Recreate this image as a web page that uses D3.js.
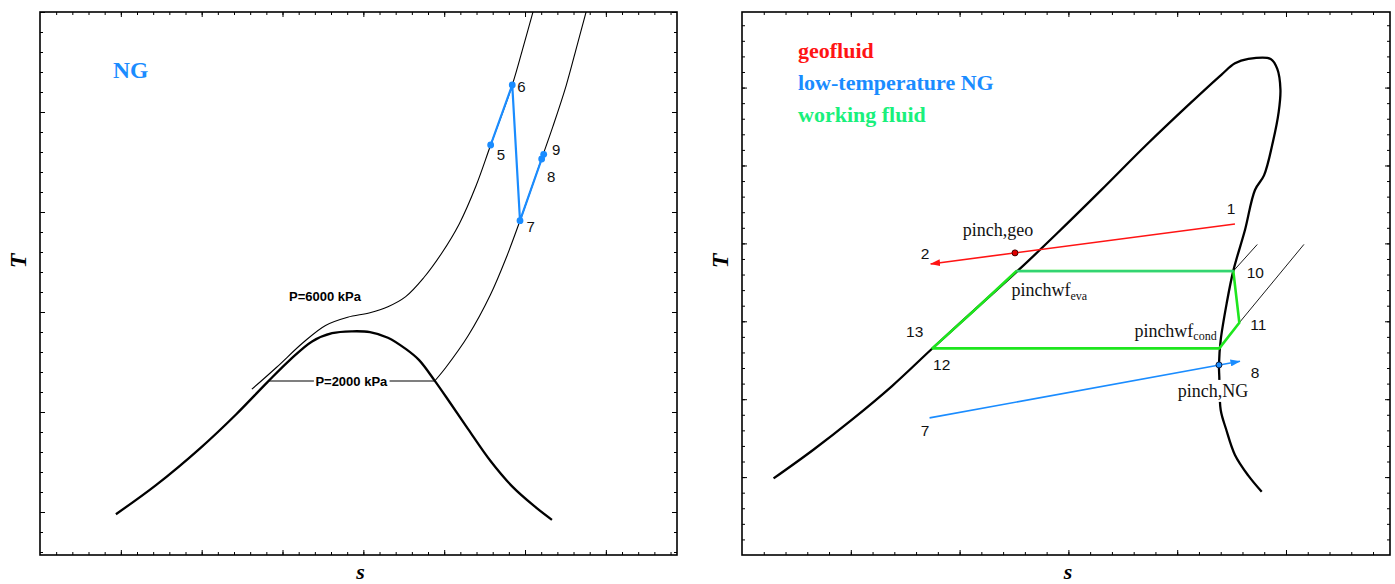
<!DOCTYPE html>
<html>
<head>
<meta charset="utf-8">
<script src="https://cdn.jsdelivr.net/npm/d3@7"></script>
<style>
  html, body { margin: 0; padding: 0; background: #fff; }
  svg { display: block; }
</style>
</head>
<body>
<svg id="chart" width="1395" height="584"></svg>
<script>
// ---------------- Left panel: natural gas T-s diagram ----------------
// saturation dome
const ngDomeS = [0.939, 1.435, 1.987, 2.428, 2.814, 3.090, 3.366, 3.613, 3.862, 4.082, 4.304, 4.524, 4.690, 4.882, 5.075, 5.296, 5.571, 5.847, 6.123, 6.333];
const ngDomeT = [97.8, 126.9, 164.2, 197.8, 229.9, 251.9, 270.6, 278.8, 280.7, 279.9, 274.3, 263.1, 251.9, 231.4, 209.0, 182.9, 151.2, 125.1, 105.3, 92.2];
// 2000 kPa isobar (two-phase plateau, then superheated branch)
const p2000S = [2.82, 4.883, 5.020, 5.296, 5.572, 5.771, 5.938, 6.206, 6.343, 6.508, 6.646, 6.758];
const p2000T = [231, 231, 244.5, 276.2, 317.2, 355.0, 391.3, 453.4, 485.1, 526.2, 567.2, 600.8];
// 6000 kPa isobar (supercritical)
const p6000S = [2.621, 2.924, 3.256, 3.532, 3.806, 4.082, 4.304, 4.524, 4.744, 4.965, 5.186, 5.393, 5.575, 5.842, 5.985, 6.101];
const p6000T = [222.8, 244.5, 269.5, 286.6, 294.8, 299.3, 305.3, 315.4, 334.0, 358.3, 388.1, 426.0, 467.0, 527.0, 567.2, 600.8];
// NG process states
const ngStates = ["5", "6", "7", "8", "9"];
const ngStateS = [5.575, 5.842, 5.938, 6.206, 6.231];
const ngStateT = [467.0, 527.0, 391.3, 453.0, 457.7];
const isobarLabels = ["P=6000 kPa", "P=2000 kPa"];

// ---------------- Right panel: working fluid cycle ----------------
const wfDomeS = [0.290, 0.653, 1.011, 1.379, 1.744, 2.133, 2.523, 2.892, 3.301, 3.711, 4.121, 4.408, 4.531, 4.654, 4.859, 4.920, 4.949, 4.933, 4.880, 4.798, 4.715, 4.623, 4.516, 4.455, 4.400, 4.384, 4.387, 4.400, 4.449, 4.531, 4.654, 4.777];
const wfDomeT = [0.983, 1.348, 1.738, 2.169, 2.644, 3.139, 3.633, 4.123, 4.683, 5.256, 5.800, 6.167, 6.311, 6.367, 6.367, 6.239, 5.974, 5.687, 5.304, 4.873, 4.686, 4.172, 3.650, 3.231, 2.760, 2.443, 2.289, 1.861, 1.617, 1.284, 1.018, 0.811];
// working-fluid cycle: 12 -> (saturated liquid) -> pinchwf_eva -> 10 -> 11 -> pinchwf_cond -> 12
const cycleS = [1.744, 2.133, 2.523, 4.516, 4.571, 4.387, 1.744];
const cycleT = [2.646, 3.139, 3.645, 3.645, 2.982, 2.652, 2.652];
// superheated isobars leaving states 10 and 11
const isoHighS = [4.516, 4.736];
const isoHighT = [3.645, 3.986];
const isoLowS = [4.571, 5.165];
const isoLowT = [2.982, 3.987];
// geofluid stream 1 -> 2 and its pinch
const geoS = [4.531, 1.734];
const geoT = [4.249, 3.736];
const geoPinch = [2.509, 3.878];
// low-temperature NG stream 7 -> 8 and its pinch
const lngS = [1.724, 4.577];
const lngT = [1.760, 2.487];
const ngPinch = [4.384, 2.440];
const legendItems = ["geofluid", "low-temperature NG", "working fluid"];

// ---------------- drawing ----------------
const RED = "#ff1414", BLUE = "#1a8cff", GREEN = "#1ee61e", LEGEND_GREEN = "#19f07c";
const EVAP_GREEN = "#34dc7c";
const SERIF = "'Liberation Serif','Times New Roman',serif";
const SANS = "'Liberation Sans',Arial,sans-serif";

const svg = d3.select("#chart");
const defs = svg.append("defs");

const boxL = { x0: 40, x1: 677, y0: 12, y1: 555 };
const boxR = { x0: 742, x1: 1390, y0: 12, y1: 555 };

const xL = d3.scaleLinear().domain([0, 7.88]).range([boxL.x0, boxL.x1]);
const yL = d3.scaleLinear().domain([57, 600]).range([boxL.y1, boxL.y0]);
const xR = d3.scaleLinear().domain([0, 5.956]).range([boxR.x0, boxR.x1]);
const yR = d3.scaleLinear().domain([0, 6.97]).range([boxR.y1, boxR.y0]);

function clipFor(id, b) {
  defs.append("clipPath").attr("id", id)
    .append("rect").attr("x", b.x0).attr("y", b.y0)
    .attr("width", b.x1 - b.x0).attr("height", b.y1 - b.y0);
}
clipFor("clipL", boxL);
clipFor("clipR", boxR);

function frame(x, y, b, xMaj, xMin, yMaj, yMin) {
  const g = svg.append("g");
  const put = (axisFn, scale, vals, size, tr) => {
    g.append("g").attr("transform", tr)
      .call(axisFn(scale).tickValues(vals).tickSize(-size).tickFormat(""))
      .call(a => a.select(".domain").remove())
      .call(a => a.selectAll("line").attr("stroke", "#000").attr("stroke-width", 1));
  };
  [[xMin, 3], [xMaj, 5]].forEach(([v, s]) => {
    put(d3.axisBottom, x, v, s, `translate(0,${b.y1})`);
    put(d3.axisTop, x, v, s, `translate(0,${b.y0})`);
  });
  [[yMin, 3], [yMaj, 5]].forEach(([v, s]) => {
    put(d3.axisLeft, y, v, s, `translate(${b.x0},0)`);
    put(d3.axisRight, y, v, s, `translate(${b.x1},0)`);
  });
  g.append("rect").attr("x", b.x0).attr("y", b.y0)
    .attr("width", b.x1 - b.x0).attr("height", b.y1 - b.y0)
    .attr("fill", "none").attr("stroke", "#000").attr("stroke-width", 1.6);
}

function axisTitles(b) {
  svg.append("text")
    .attr("transform", `translate(${b.x0 - 22},${261}) rotate(-90)`)
    .attr("text-anchor", "middle").attr("dominant-baseline", "central")
    .attr("font-family", SERIF).attr("font-weight", "bold").attr("font-style", "italic")
    .attr("font-size", 24).text("T");
  svg.append("text")
    .attr("x", (b.x0 + b.x1) / 2 + 2).attr("y", 578.5)
    .attr("text-anchor", "middle")
    .attr("font-family", SERIF).attr("font-weight", "bold").attr("font-style", "italic")
    .attr("font-size", 22).text("s");
}

function curve(g, S, T, x, y, opts) {
  const line = d3.line()
    .x(i => x(S[i])).y(i => y(T[i]))
    .curve(opts.linear ? d3.curveLinear : d3.curveCatmullRom.alpha(0.5));
  return g.append("path").attr("d", line(d3.range(S.length)))
    .attr("fill", "none").attr("stroke", opts.color || "#000")
    .attr("stroke-width", opts.width || 1)
    .attr("stroke-linejoin", "round").attr("stroke-linecap", opts.cap || "butt");
}

function boxedText(g, t, pad) {
  const bb = t.node().getBBox();
  g.insert("rect", () => t.node())
    .attr("x", bb.x - pad[0]).attr("y", bb.y - pad[1])
    .attr("width", bb.width + 2 * pad[0]).attr("height", bb.height + 2 * pad[1])
    .attr("fill", "#fff");
}

// ===== Left panel =====
frame(xL, yL, boxL, d3.range(1, 8), d3.range(0.2, 7.88, 0.2), d3.range(100, 601, 100), d3.range(60, 600, 20));
axisTitles(boxL);

const gL = svg.append("g").attr("clip-path", "url(#clipL)");
curve(gL, ngDomeS, ngDomeT, xL, yL, { width: 2.3 });
curve(gL, p6000S, p6000T, xL, yL, { width: 1.1 });
curve(gL, p2000S.slice(0, 2), p2000T.slice(0, 2), xL, yL, { width: 1.1, linear: true });
curve(gL, p2000S.slice(1), p2000T.slice(1), xL, yL, { width: 1.1 });

// isobar labels
gL.append("text")
  .attr("x", xL(3.532) - 0.5).attr("y", yL(p6000T[3]) - 24.5)
  .attr("text-anchor", "middle")
  .attr("font-family", SANS).attr("font-weight", "bold").attr("font-size", 13)
  .text(isobarLabels[0]);
const lbl2000 = gL.append("text")
  .attr("x", xL((p2000S[0] + p2000S[1]) / 2)).attr("y", yL(p2000T[0]) + 4.7)
  .attr("text-anchor", "middle")
  .attr("font-family", SANS).attr("font-weight", "bold").attr("font-size", 13)
  .text(isobarLabels[1]);
boxedText(gL, lbl2000, [1.5, -1]);

// NG process 5-6-7-8-9
curve(gL, ngStateS, ngStateT, xL, yL, { width: 2.2, color: BLUE, linear: true });
gL.selectAll("circle.ng").data(d3.range(ngStates.length)).join("circle")
  .attr("cx", i => xL(ngStateS[i])).attr("cy", i => yL(ngStateT[i]))
  .attr("r", 3.4).attr("fill", BLUE);
const ngLabelOffset = [[6, 14.5], [5, 7], [6.5, 11.5], [5.3, 23], [8.3, 0.5]];
gL.selectAll("text.ng").data(d3.range(ngStates.length)).join("text")
  .attr("x", i => xL(ngStateS[i]) + ngLabelOffset[i][0])
  .attr("y", i => yL(ngStateT[i]) + ngLabelOffset[i][1])
  .attr("font-family", SANS).attr("font-size", 15).attr("fill", "#111")
  .text(i => ngStates[i]);

svg.append("text").attr("x", 113).attr("y", 77.5)
  .attr("font-family", SERIF).attr("font-weight", "bold").attr("font-size", 23.5)
  .attr("fill", BLUE).text("NG");

// ===== Right panel =====
frame(xR, yR, boxR, d3.range(1, 6), d3.range(0.2, 5.95, 0.2), d3.range(1, 7), d3.range(0.2, 6.97, 0.2));
axisTitles(boxR);

const gR = svg.append("g").attr("clip-path", "url(#clipR)");

function arrowMarker(id, color) {
  defs.append("marker").attr("id", id)
    .attr("viewBox", "0 0 10 7").attr("refX", 9.5).attr("refY", 3.5)
    .attr("markerUnits", "userSpaceOnUse").attr("markerWidth", 10).attr("markerHeight", 7)
    .attr("orient", "auto-start-reverse")
    .append("path").attr("d", "M0,0 L10,3.5 L0,7 Z").attr("fill", color);
}
arrowMarker("arrowRed", RED);
arrowMarker("arrowBlue", BLUE);

curve(gR, wfDomeS, wfDomeT, xR, yR, { width: 2.3 });
curve(gR, isoHighS, isoHighT, xR, yR, { width: 0.9, linear: true });
curve(gR, isoLowS, isoLowT, xR, yR, { width: 0.9, linear: true });

// working fluid cycle (evaporation plateau drawn on top, slightly lighter)
curve(gR, cycleS, cycleT, xR, yR, { width: 2.6, color: GREEN, linear: true });
curve(gR, cycleS.slice(2, 4), cycleT.slice(2, 4), xR, yR, { width: 1, color: "#333", linear: true });
curve(gR, cycleS.slice(2, 4), cycleT.slice(2, 4), xR, yR, { width: 2.2, color: EVAP_GREEN, linear: true })
  .attr("stroke-opacity", 0.9);

// geofluid stream with arrow toward state 2
curve(gR, geoS, geoT, xR, yR, { width: 1.6, color: RED, linear: true })
  .attr("marker-end", "url(#arrowRed)");
gR.append("circle").attr("cx", xR(geoPinch[0])).attr("cy", yR(geoPinch[1]))
  .attr("r", 3).attr("fill", "#e00000").attr("stroke", "#400").attr("stroke-width", 1);

// NG stream with arrow toward state 8
curve(gR, lngS, lngT, xR, yR, { width: 1.6, color: BLUE, linear: true })
  .attr("marker-end", "url(#arrowBlue)");
gR.append("circle").attr("cx", xR(ngPinch[0])).attr("cy", yR(ngPinch[1]))
  .attr("r", 3).attr("fill", BLUE).attr("stroke", "#102040").attr("stroke-width", 1);

// state numbers
const numLabels = [
  { t: "1", s: geoS[0], T: geoT[0], dx: -4, dy: -9.5 },
  { t: "2", s: geoS[1], T: geoT[1], dx: -5.7, dy: -5.2 },
  { t: "10", s: cycleS[3], T: cycleT[3], dx: 22, dy: 6.5 },
  { t: "11", s: cycleS[4], T: cycleT[4], dx: 19, dy: 7 },
  { t: "13", s: cycleS[0], T: cycleT[0], dx: -17, dy: -11.5 },
  { t: "12", s: cycleS[0], T: cycleT[0], dx: 10, dy: 21.5 },
  { t: "7", s: lngS[0], T: lngT[0], dx: -4.6, dy: 18.5 },
  { t: "8", s: lngS[1], T: lngT[1], dx: 15, dy: 17 }
];
gR.selectAll("text.num").data(numLabels).join("text")
  .attr("x", d => xR(d.s) + d.dx).attr("y", d => yR(d.T) + d.dy)
  .attr("text-anchor", "middle")
  .attr("font-family", SANS).attr("font-size", 15.5).attr("fill", "#111")
  .text(d => d.t);

// pinch annotations
gR.append("text").attr("x", xR(geoPinch[0]) - 17).attr("y", yR(geoPinch[1]) - 17)
  .attr("text-anchor", "middle").attr("font-family", SERIF).attr("font-size", 18).attr("fill", "#111")
  .text("pinch,geo");
const ngPinchLbl = gR.append("text").attr("x", xR(ngPinch[0]) - 6).attr("y", yR(ngPinch[1]) + 32)
  .attr("text-anchor", "middle").attr("font-family", SERIF).attr("font-size", 18).attr("fill", "#111")
  .text("pinch,NG");
boxedText(gR, ngPinchLbl, [1, 1]);

const eva = gR.append("text").attr("x", xR(cycleS[2]) - 5).attr("y", yR(cycleT[2]) + 24.5)
  .attr("font-family", SERIF).attr("font-size", 18).attr("fill", "#111");
eva.append("tspan").text("pinchwf");
eva.append("tspan").attr("font-size", 12).attr("dy", 4.5).text("eva");

const cond = gR.append("text").attr("x", xR(cycleS[5]) - 2.6).attr("y", yR(cycleT[5]) - 11)
  .attr("text-anchor", "end").attr("font-family", SERIF).attr("font-size", 18).attr("fill", "#111");
cond.append("tspan").text("pinchwf");
cond.append("tspan").attr("font-size", 12).attr("dy", 3).text("cond");

// legend
const legendColors = [RED, BLUE, LEGEND_GREEN];
svg.selectAll("text.legend").data(legendItems).join("text")
  .attr("x", 798).attr("y", (d, i) => 58 + i * 32)
  .attr("font-family", SERIF).attr("font-weight", "bold").attr("font-size", 22)
  .attr("fill", (d, i) => legendColors[i])
  .text(d => d);
</script>
</body>
</html>
